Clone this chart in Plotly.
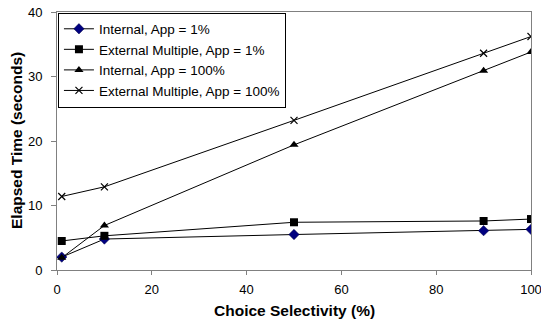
import plotly.graph_objects as go

x_vals = [1, 10, 50, 90, 100]
internal_1 = [2.0, 4.8, 5.5, 6.1, 6.3]
external_1 = [4.5, 5.3, 7.4, 7.6, 7.9]
internal_100 = [1.9, 6.9, 19.4, 30.9, 33.8]
external_100 = [11.4, 12.9, 23.2, 33.6, 36.2]

series_names = [
    "Internal, App = 1%",
    "External Multiple, App = 1%",
    "Internal, App = 100%",
    "External Multiple, App = 100%",
]
x_title = "<b>Choice Selectivity (%)</b>"
y_title = "<b>Elapsed Time (seconds)</b>"

fig = go.Figure()
styles = [
    (internal_1, dict(symbol="diamond", size=8, color="#000080", line=dict(color="#000040", width=0.5))),
    (external_1, dict(symbol="square", size=8, color="#000000")),
    (internal_100, dict(symbol="triangle-up", size=8, color="#000000")),
    (external_100, dict(symbol="x-thin-open", size=7, color="#000000", line=dict(color="#000000", width=1.2))),
]
for name, (ys, marker) in zip(series_names, styles):
    fig.add_trace(go.Scatter(
        x=x_vals, y=ys, name=name, mode="lines+markers",
        line=dict(color="#000000", width=1), marker=marker,
    ))

fig.update_layout(
    width=541, height=325,
    margin=dict(l=57, r=10, t=12, b=55),
    paper_bgcolor="white", plot_bgcolor="white",
    font=dict(family="Liberation Sans, Arial", size=13, color="black"),
    showlegend=True,
    legend=dict(
        x=0.002, y=0.998, xanchor="left", yanchor="top",
        bordercolor="black", borderwidth=1, bgcolor="white",
        font=dict(size=13.5), tracegroupgap=0, itemwidth=30,
    ),
    xaxis=dict(
        range=[0, 100], tickvals=[0, 20, 40, 60, 80, 100],
        showgrid=False, zeroline=False, automargin=False,
        showline=True, linecolor="#808080", linewidth=1, mirror=True,
        ticks="outside", ticklen=4, tickcolor="#808080", ticklabelstandoff=3,
        ticklabeloverflow="allow",
    ),
    yaxis=dict(
        range=[0, 40], tickvals=[0, 10, 20, 30, 40],
        showgrid=False, zeroline=False, automargin=False,
        showline=True, linecolor="#808080", linewidth=1, mirror=True,
        ticks="outside", ticklen=5, tickcolor="#808080", ticklabelstandoff=6,
        ticklabeloverflow="allow",
    ),
    annotations=[
        dict(text=x_title, xref="paper", yref="paper", x=0.5, y=0, yshift=-40,
             xanchor="center", yanchor="middle", showarrow=False, font=dict(size=15.5)),
        dict(text=y_title, xref="paper", yref="paper", x=0, y=0.5, xshift=-41,
             xanchor="center", yanchor="middle", textangle=-90, showarrow=False,
             font=dict(size=15.5)),
    ],
)

# remove the page's default 8px body margin so the figure fills the window
fig.write_html("out.html", config={"displayModeBar": False},
               post_script="document.body.style.margin='0';")
